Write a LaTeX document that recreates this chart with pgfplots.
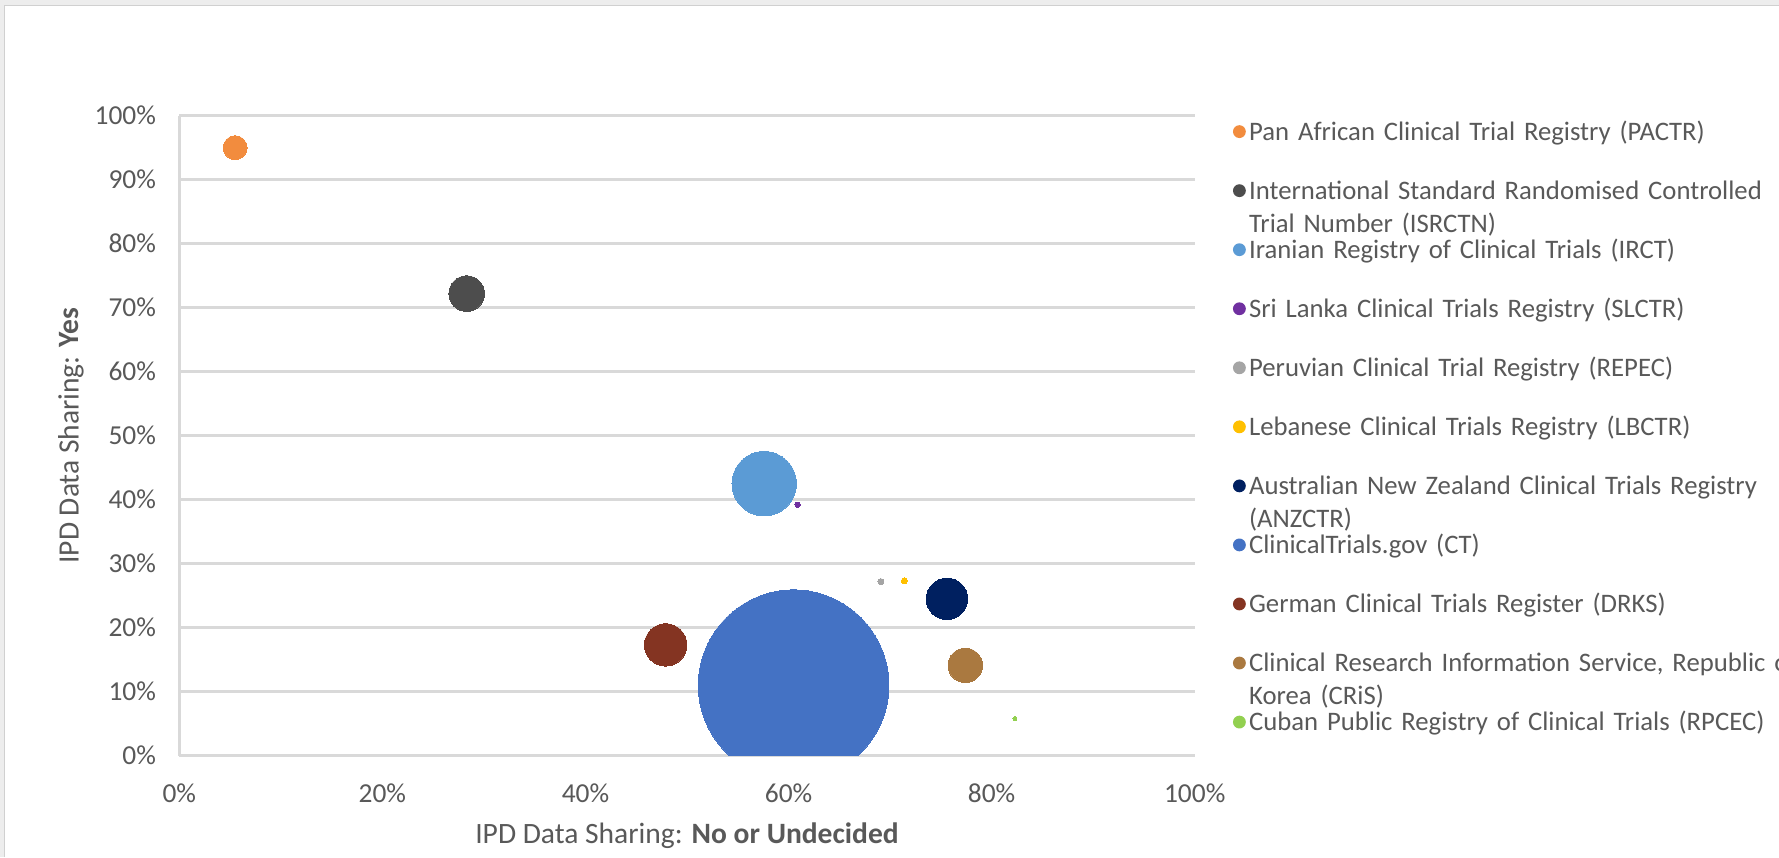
\documentclass[border=0pt]{standalone}
\usepackage{pgfplots}
\pgfplotsset{compat=1.18}
\usepackage{fontspec}
\setmainfont{Carlito}
\definecolor{txt}{HTML}{595959}
\definecolor{gridc}{HTML}{D9D9D9}
\definecolor{frameband}{HTML}{EDEDED}
\definecolor{frameline}{HTML}{D0D0D0}
\definecolor{cPACTR}{HTML}{F28C3E}
\definecolor{cISRCTN}{HTML}{4D4D4D}
\definecolor{cIRCT}{HTML}{5B9BD5}
\definecolor{cSLCTR}{HTML}{7030A0}
\definecolor{cREPEC}{HTML}{A5A5A5}
\definecolor{cLBCTR}{HTML}{FFC000}
\definecolor{cANZCTR}{HTML}{002060}
\definecolor{cCT}{HTML}{4472C4}
\definecolor{cDRKS}{HTML}{843422}
\definecolor{cCRiS}{HTML}{AA7940}
\definecolor{cRPCEC}{HTML}{92D050}
\begin{document}
\begin{tikzpicture}
\useasboundingbox (0,0) rectangle (17.79,8.57);
\fill[white] (0,0) rectangle (17.79,8.57);
\fill[frameband] (0,8.52) rectangle (17.79,8.57);
\fill[frameband] (0,0) rectangle (0.04,8.57);
\draw[frameline, line width=0.5pt] (0.045,0) -- (0.045,8.515) -- (17.79,8.515);
\begin{axis}[
  at={(1.793cm,1.014cm)}, anchor=south west,
  scale only axis, width=10.154cm, height=6.399cm,
  xmin=0, xmax=100, ymin=0, ymax=100,
  xtick={0,20,40,60,80,100}, ytick={0,10,20,30,40,50,60,70,80,90,100},
  xticklabel={\pgfmathprintnumber{\tick}\%},
  yticklabel={\pgfmathprintnumber{\tick}\%},
  /pgf/number format/assume math mode=true,
  ymajorgrids, major grid style={gridc, line width=0.77pt},
  axis lines=left, axis line style={gridc, line width=0.77pt, -},
  major tick length=0pt,
  tick label style={font=\fontsize{7.8}{9}\selectfont, text=txt},
  yticklabel style={anchor=east, inner sep=0pt, xshift=-2.27mm},
  xticklabel style={anchor=north, inner sep=0pt, yshift=-2.77mm},
  label style={font=\fontsize{8.4}{10}\selectfont, text=txt},
  xlabel={IPD Data Sharing: \textbf{No or Undecided}},
  ylabel={IPD Data Sharing: \textbf{Yes}},
  xlabel style={at={([yshift=-8.04mm]axis description cs:0.5,0)}, anchor=center},
  ylabel style={at={([xshift=-10.83mm]axis description cs:0,0.5)}, anchor=center},
  clip marker paths=true,
  legend cell align=left,
  legend image code/.code={\fill (0,0) circle (0.57mm);},
  legend style={at={(1.0377,0.9886)}, anchor=north west, draw=none, fill=none,
    inner sep=0pt, outer sep=0pt, row sep=11.9pt, column sep=0.33mm,
    nodes={inner sep=0pt, text height=4.9pt, text depth=0pt, text width=9cm, align=left,
      font=\fontsize{7.6}{9.4}\selectfont, text=txt}},
  every axis plot/.append style={only marks, mark=*, mark options={line width=0pt}},
]
\addplot[color=cPACTR, mark size=3.41pt] coordinates {(5.5,95.0)};
\addlegendentry{Pan African Clinical Trial Registry (PACTR)}
\addplot[color=cISRCTN, mark size=5.06pt] coordinates {(28.3,72.2)};
\addlegendentry{International Standard Randomised Controlled\\Trial Number (ISRCTN)}
\addplot[color=cIRCT, mark size=9.16pt] coordinates {(57.6,42.5)};
\addlegendentry{Iranian Registry of Clinical Trials (IRCT)}
\addplot[color=cSLCTR, mark size=0.77pt] coordinates {(60.9,39.2)};
\addlegendentry{Sri Lanka Clinical Trials Registry (SLCTR)}
\addplot[color=cREPEC, mark size=0.85pt] coordinates {(69.1,27.2)};
\addlegendentry{Peruvian Clinical Trial Registry (REPEC)}
\addplot[color=cLBCTR, mark size=0.85pt] coordinates {(71.4,27.3)};
\addlegendentry{Lebanese Clinical Trials Registry (LBCTR)}
\addplot[color=cANZCTR, mark size=5.89pt] coordinates {(75.6,24.5)};
\addlegendentry{Australian New Zealand Clinical Trials Registry\\(ANZCTR)}
\addplot[color=cCT, mark size=27.12pt] coordinates {(60.5,11.0)};
\addlegendentry{ClinicalTrials.gov (CT)}
\addplot[color=cDRKS, mark size=6.03pt] coordinates {(47.9,17.3)};
\addlegendentry{German Clinical Trials Register (DRKS)}
\addplot[color=cCRiS, mark size=4.89pt] coordinates {(77.4,14.1)};
\addlegendentry{Clinical Research Information Service, Republic of\\Korea (CRiS)}
\addplot[color=cRPCEC, mark size=0.57pt] coordinates {(82.3,5.8)};
\addlegendentry{Cuban Public Registry of Clinical Trials (RPCEC)}
\end{axis}
\end{tikzpicture}
\end{document}
